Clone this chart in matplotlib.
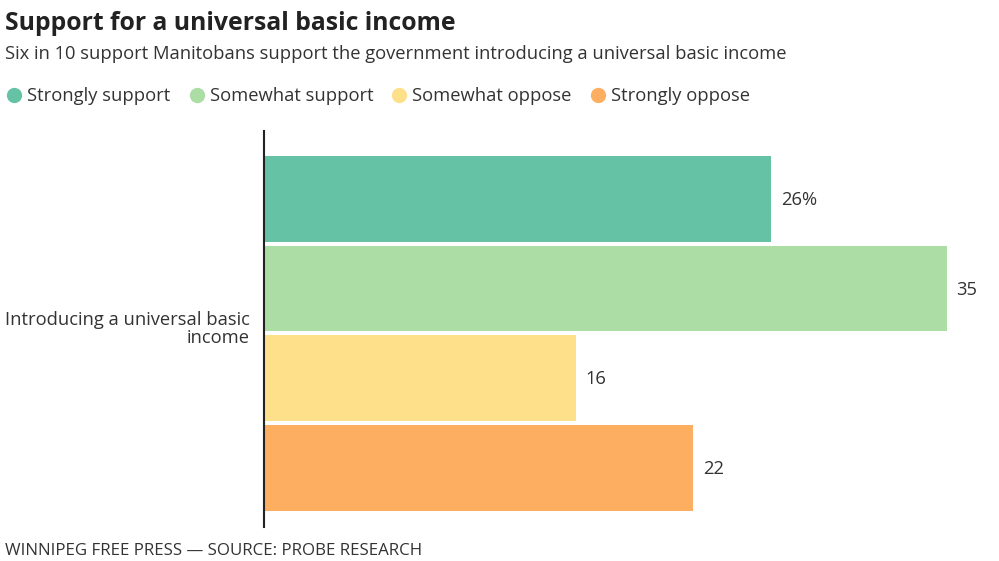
import matplotlib
matplotlib.use("Agg")
import matplotlib.pyplot as plt
from matplotlib.lines import Line2D

plt.rcParams['font.family'] = ['Open Sans', 'DejaVu Sans']

categories = ["Strongly support", "Somewhat support", "Somewhat oppose", "Strongly oppose"]
values = [26, 35, 16, 22]
value_labels = ["26%", "35", "16", "22"]
colors = ["#66c2a5", "#abdda4", "#fee08b", "#fdae61"]
row_label = "Introducing a universal basic\nincome"

W, H = 999, 561
fig = plt.figure(figsize=(W / 100, H / 100), dpi=100)

ax_left, ax_right, ax_top, ax_bottom = 264, 984, 131, 527
ax = fig.add_axes([ax_left / W, 1 - ax_bottom / H, (ax_right - ax_left) / W, (ax_bottom - ax_top) / H])

pos = list(range(len(values)))
ax.barh(pos, values, height=0.955, color=colors, linewidth=0)
ax.set_xlim(0, (ax_right - ax_left) / 19.5)
ax.set_ylim(3.66, -0.76)
for p, v, lab in zip(pos, values, value_labels):
    ax.text(v + 0.5, p + 0.01, lab, va='center', ha='left', fontsize=13.2, color='#333333')

for s in ['top', 'right', 'bottom']:
    ax.spines[s].set_visible(False)
ax.spines['left'].set_linewidth(1.5)
ax.spines['left'].set_color('#222222')
ax.set_xticks([])
ax.set_yticks([])
ax.text(-14 / (ax_right - ax_left), 0.5, row_label, transform=ax.transAxes,
        ha='right', va='center', fontsize=13.2, color='#333333', linespacing=1.0)

fig.text(5 / W, 1 - 23 / H, "Support for a universal basic income", fontsize=17.8, fontweight='bold',
         color='#222222', va='center', ha='left')
fig.text(5 / W, 1 - 54 / H, "Six in 10 support Manitobans support the government introducing a universal basic income",
         fontsize=13.2, color='#333333', va='center', ha='left')

handles = [Line2D([], [], marker='o', linestyle='none', markersize=11, markerfacecolor=c,
                  markeredgewidth=0) for c in colors]
fig.legend(handles, categories, loc='center left', bbox_to_anchor=(-14 / W, 1 - 96 / H), ncol=4,
           frameon=False, fontsize=13.2, handletextpad=0.05, columnspacing=0.78, handlelength=1.3,
           labelcolor='#333333')

fig.text(5 / W, 1 - 551 / H, "WINNIPEG FREE PRESS — SOURCE: PROBE RESEARCH", fontsize=12.2,
         color='#333333', va='center', ha='left')

fig.savefig("out.png", dpi=100)
